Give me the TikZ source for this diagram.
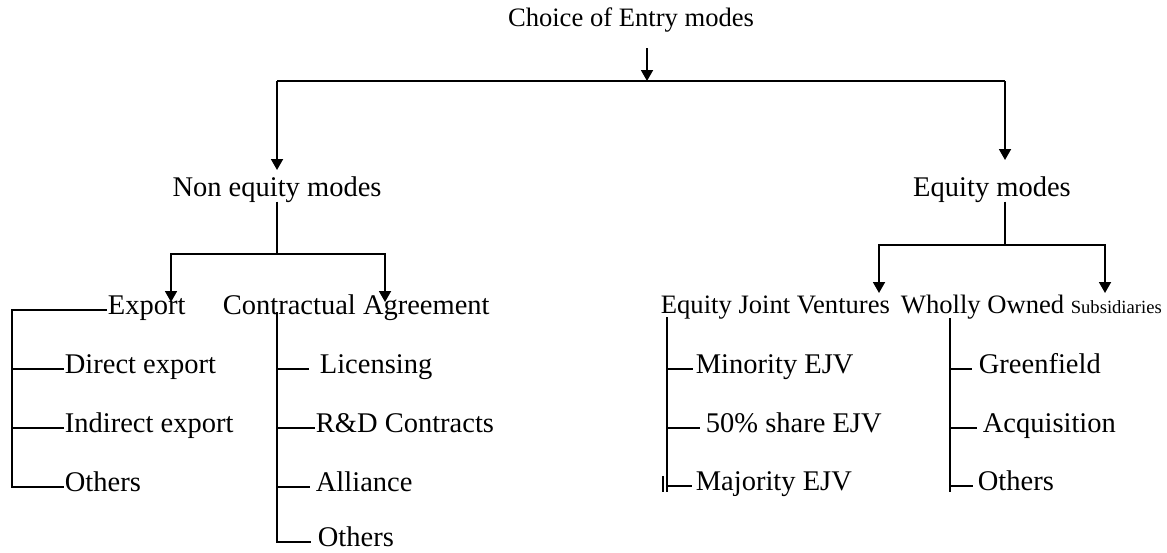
\documentclass[tikz,border=0pt]{standalone}
\usepackage{fontspec}
\setmainfont{Liberation Serif}
\usetikzlibrary{arrows.meta}

\begin{document}
\begin{tikzpicture}[x=0.5pt, y=-0.5pt, line width=0.9pt,
    lbl/.style={inner sep=0pt, anchor=base west, text height=0.68em, text depth=0.24em,
      font=\fontsize{14.25}{16}\selectfont},
    head/.style={lbl, anchor=base},
    arr/.style={-{Triangle[width=6pt,length=5.5pt]}}]
    \useasboundingbox (0,0) rectangle (1167,552);
    \node[head, font=\fontsize{13.3}{16}\selectfont] (T) at (631,26) {Choice of Entry modes};
    \node[head] (N) at (277,196) {Non equity modes};
    \node[head] (E) at (992,196) {Equity modes};
    \node[lbl] (X) at (107,314) {Export};
    \node[lbl] (C) at (222,314) {Contractual Agreement};
    \node[lbl, font=\fontsize{13.3}{16}\selectfont] (J) at (660,313) {Equity Joint Ventures};
    \node[lbl, font=\fontsize{13.3}{16}\selectfont] (W) at (900,313)
        {Wholly Owned {\fontsize{9.3}{11}\selectfont Subsidiaries}};
    \node[lbl] (X1) at (64,373) {Direct export};
    \node[lbl] (X2) at (64,432) {Indirect export};
    \node[lbl] (X3) at (64,491) {Others};
    \node[lbl] (C1) at (319,373) {Licensing};
    \node[lbl] (C2) at (315,432) {R\&D Contracts};
    \node[lbl] (C3) at (315,491) {Alliance};
    \node[lbl] (C4) at (317,546) {Others};
    \node[lbl] (J1) at (695,373) {Minority EJV};
    \node[lbl] (J2) at (705,432) {50\% share EJV};
    \node[lbl] (J3) at (695,490) {Majority EJV};
    \node[lbl] (W1) at (978,373) {Greenfield};
    \node[lbl] (W2) at (982,432) {Acquisition};
    \node[lbl] (W3) at (977,490) {Others};

    \coordinate (t0) at (647,48);
    \coordinate (t1) at (647,81);
    \coordinate (tL) at (277,81);
    \coordinate (tR) at (1005,81);
    \coordinate (nB) at (277,254);
    \coordinate (eB) at (1005,245);
    \coordinate (xL) at (12,0);
    \coordinate (cL) at (277,312);
    \coordinate (jL) at (667,317);
    \coordinate (wL) at (950,318);

    \draw[arr] (t0) -- (t1);
    \draw (tL) -- (tR);
    \draw[arr] (tL) -- (277,170);
    \draw[arr] (tR) -- (1005,160);

    \draw (N.south) -- (nB);
    \draw[arr] (nB) -| (171,302);
    \draw[arr] (nB) -| (385,302);
    \draw (E.south -| eB) -- (eB);
    \draw[arr] (eB) -| (879,293);
    \draw[arr] (eB) -| (1105,293);

    \draw (X.west) -| (xL |- X3.west) -- (X3.west);
    \draw (xL |- X1.west) -- (X1.west);
    \draw (xL |- X2.west) -- (X2.west);

    \draw (cL) -- (cL |- C4.west) -- ([xshift=-3pt]C4.west);
    \draw[shorten >=5pt] (cL |- C1.west) -- (C1.west);
    \draw (cL |- C2.west) -- (C2.west);
    \draw[shorten >=2.5pt] (cL |- C3.west) -- (C3.west);

    \draw (jL) -- (667,492);
    \draw (663,476) -- (663,492);
    \draw[shorten >=1pt] (jL |- J1.west) -- (J1.west);
    \draw[shorten >=2.5pt] (jL |- J2.west) -- (J2.west);
    \draw[shorten >=1.5pt] (jL |- J3.west) -- (J3.west);

    \draw (wL) -- (950,492);
    \draw[shorten >=3pt] (wL |- W1.west) -- (W1.west);
    \draw[shorten >=2.5pt] (wL |- W2.west) -- (W2.west);
    \draw[shorten >=2pt] (wL |- W3.west) -- (W3.west);
\end{tikzpicture}
\end{document}
